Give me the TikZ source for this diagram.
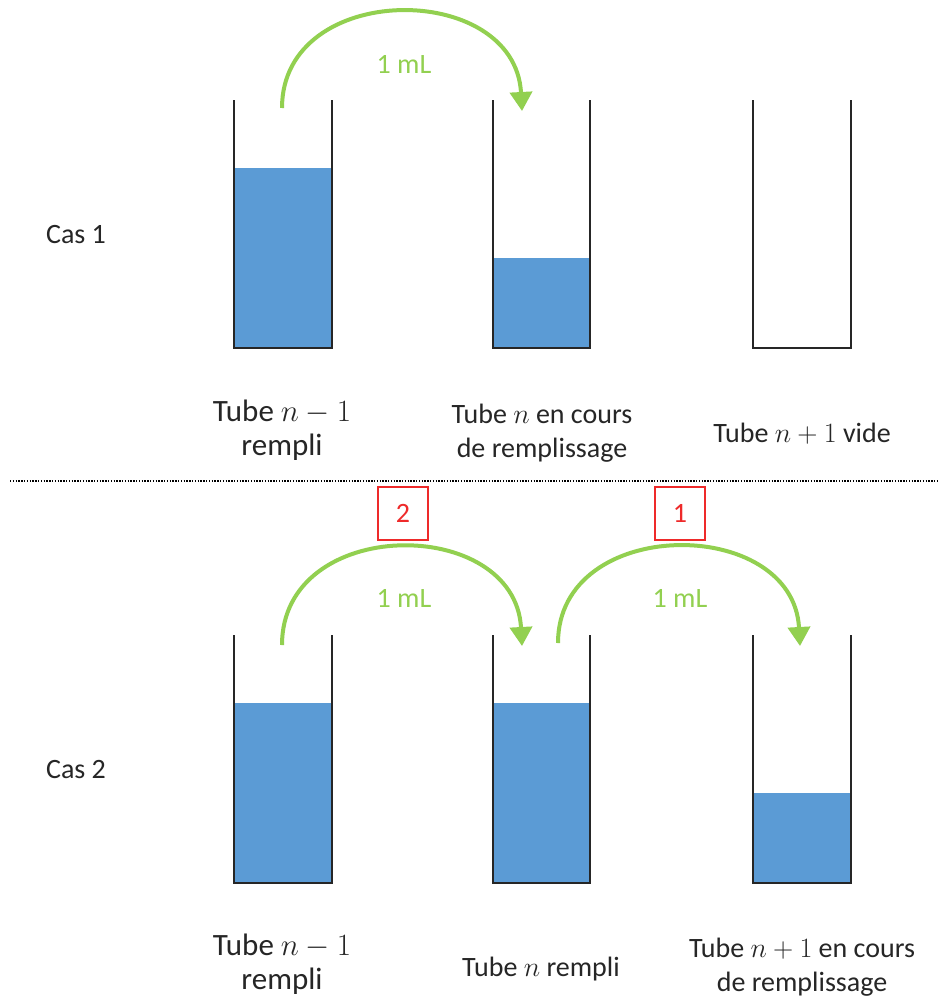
\RequirePackage{fix-cm}
\documentclass[tikz,border=0pt]{standalone}
\usepackage{fontspec}
\setmainfont{Carlito}
\usetikzlibrary{arrows.meta}
\definecolor{tubeblue}{HTML}{5B9BD5}
\definecolor{arrowgreen}{HTML}{92D050}
\definecolor{boxred}{HTML}{EE2A2A}
\definecolor{wallgray}{HTML}{262626}
\newcommand\drawtube[4]{% left x, right x, top y, bottom y
  \draw[wall] (#1,#3) -- (#1,#4) -- (#2,#4) -- (#2,#3);}
\newcommand\filltube[4]{% left x, right x, fill top y, bottom y
  \fill[tubeblue] (#1,#3) rectangle (#2,#4);}
\begin{document}
\begin{tikzpicture}[x=1pt,y=-1pt,
  wall/.style={draw=wallgray,line width=2pt,line join=miter},
  transfer/.style={draw=arrowgreen,line width=4pt,-{Triangle[length=19pt,width=22pt]}},
  vol/.style={text=arrowgreen,font=\fontsize{28}{34}\selectfont,inner sep=0pt},
  caslabel/.style={font=\fontsize{28}{34}\selectfont,text=wallgray,inner sep=0pt},
  biglabel/.style={font=\fontsize{31}{34}\selectfont,align=center,text=wallgray,inner sep=0pt},
  tubelabel/.style={font=\fontsize{28}{34}\selectfont,align=center,text=wallgray,inner sep=0pt},
  stepbox/.style={draw=boxred,line width=1.5pt,text=boxred,minimum width=50pt,minimum height=53pt,font=\fontsize{28}{34}\selectfont,inner sep=0pt}
]
\useasboundingbox (0,0) rectangle (938,998);
\fill[white] (0,0) rectangle (938,998);

% ---------- Cas 1 ----------
\filltube{235}{331}{168}{347}
\filltube{494}{589}{258}{347}
\drawtube{234}{332}{100}{348}
\drawtube{493}{590}{100}{348}
\drawtube{753}{851}{100}{348}

\node[caslabel] (cas1) at (76,235) {Cas 1};

\coordinate (a1s) at (282,108);
\coordinate (a1e) at (522,111);
\draw[transfer] (a1s) .. controls (282,-20) and (515,-20) .. (a1e);
\node[vol] (v1) at (404,64) {1 mL};

\node[biglabel] (l11) at (282,430) {Tube $n-1$\\rempli};
\node[tubelabel] (l12) at (542,433) {Tube $n$ en cours\\ de remplissage};
\node[tubelabel] (l13) at (802,434) {Tube $n+1$ vide};

% ---------- separator ----------
\coordinate (sepL) at (10,481);
\coordinate (sepR) at (938,481);
\draw[line width=1.3pt,dash pattern=on 1.3pt off 1.5pt] (sepL) -- (sepR);

% ---------- Cas 2 ----------
\filltube{235}{331}{703}{882}
\filltube{494}{589}{703}{882}
\filltube{754}{850}{793}{882}
\drawtube{234}{332}{635}{883}
\drawtube{493}{590}{635}{883}
\drawtube{753}{851}{635}{883}

\node[caslabel] (cas2) at (76,770) {Cas 2};

\node[stepbox] (b2) at (403,513.5) {2};
\node[stepbox] (b1) at (680,513.5) {1};

\coordinate (a2s) at (282,645);
\coordinate (a2e) at (522,646);
\draw[transfer] (a2s) .. controls (282,515) and (515,515) .. (a2e);
\node[vol] (v2) at (404,598) {1 mL};

\coordinate (a3s) at (558,643);
\coordinate (a3e) at (800,646);
\draw[transfer] (a3s) .. controls (558,515) and (793,515) .. (a3e);
\node[vol] (v3) at (680,598) {1 mL};

\node[biglabel] (l21) at (282,964) {Tube $n-1$\\rempli};
\node[tubelabel] (l22) at (541,969) {Tube $n$ rempli};
\node[tubelabel] (l23) at (802,967) {Tube $n+1$ en cours\\ de remplissage};
\end{tikzpicture}
\end{document}
